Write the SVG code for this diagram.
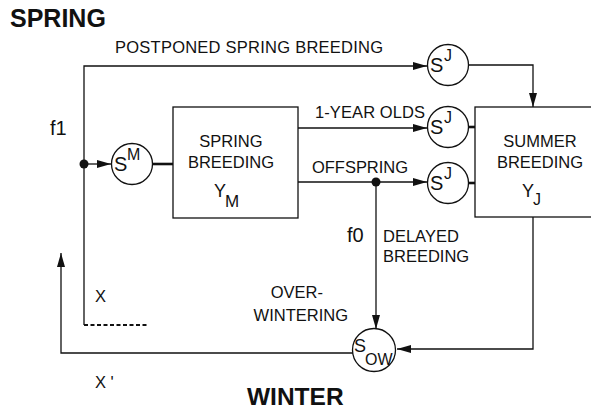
<svg xmlns="http://www.w3.org/2000/svg" width="591" height="409" viewBox="0 0 591 409">
<style>
text{font-family:"Liberation Sans",Arial,sans-serif;fill:#111}
.lbl{font-size:16.5px}
.hd{font-size:25px;font-weight:bold}
.f{font-size:20px}
.s{font-size:20px}
.sup{font-size:16px}
line,polyline,path.c{stroke:#111;stroke-width:1.3;fill:none}
rect.box{fill:#fff;stroke:#111;stroke-width:1.3}
circle.n{fill:#fff;stroke:#111;stroke-width:1.3}
.thick{stroke-width:2.6}
</style>
<defs>
<marker id="arr" viewBox="0 0 14 10" refX="14" refY="5" markerWidth="14" markerHeight="10" markerUnits="userSpaceOnUse" orient="auto">
<path d="M0,1 L14,5 L0,9 z" fill="#111"/>
</marker>
</defs>
<rect width="591" height="409" fill="#fff"/>
<text class="hd" x="10" y="27">SPRING</text>
<text class="hd" x="247" y="405" style="font-size:24.5px">WINTER</text>
<g id="connectors">
<polyline points="84,325 84,66 427,66" marker-end="url(#arr)"/>
<polyline points="468,65 533,65 533,107" marker-end="url(#arr)"/>
<line x1="84" y1="164" x2="111" y2="164" marker-end="url(#arr)"/>
<line x1="152" y1="164" x2="173" y2="164" class="thick"/>
<line x1="298" y1="128" x2="427" y2="128" marker-end="url(#arr)"/>
<line x1="298" y1="182" x2="427" y2="182" marker-end="url(#arr)"/>
<line x1="468" y1="127" x2="475" y2="127" class="thick"/>
<line x1="468" y1="183" x2="475" y2="183" class="thick"/>
<line x1="376" y1="182" x2="376" y2="329" marker-end="url(#arr)"/>
<polyline points="533,217 533,349 397,349" marker-end="url(#arr)"/>
<polyline points="353,353 61,353 61,253" marker-end="url(#arr)"/>
<line x1="84" y1="325" x2="148" y2="325" stroke-dasharray="4,2.5" style="stroke-width:2"/>
<circle cx="84" cy="164" r="4.5" fill="#111"/>
<circle cx="376" cy="182" r="4.5" fill="#111"/>
</g>
<text class="lbl" x="115" y="53" textLength="268" lengthAdjust="spacing">POSTPONED SPRING BREEDING</text>
<text class="lbl" x="315" y="118" textLength="110" lengthAdjust="spacing">1-YEAR OLDS</text>
<text class="lbl" x="312" y="173" textLength="96" lengthAdjust="spacing">OFFSPRING</text>
<text class="f" x="50" y="135">f1</text>
<text class="f" x="347" y="242">f0</text>
<text class="lbl" x="383" y="242">DELAYED</text>
<text class="lbl" x="383" y="262">BREEDING</text>
<text class="lbl" x="323" y="298" text-anchor="end">OVER-</text>
<text class="lbl" x="348" y="321" text-anchor="end">WINTERING</text>
<text class="lbl" x="95" y="302">X</text>
<text class="lbl" x="95" y="388">X '</text>
<g id="spring-breeding">
<rect class="box" x="173" y="107" width="125" height="111"/>
<text class="lbl" x="231" y="147" text-anchor="middle">SPRING</text>
<text class="lbl" x="231" y="168" text-anchor="middle">BREEDING</text>
<text class="lbl" x="214" y="197" style="font-size:18px">Y</text>
<text class="lbl" x="225" y="207" style="font-size:17px">M</text>
</g>
<g id="summer-breeding">
<rect class="box" x="475" y="107" width="130" height="110"/>
<text class="lbl" x="540" y="147" text-anchor="middle">SUMMER</text>
<text class="lbl" x="540" y="168" text-anchor="middle">BREEDING</text>
<text class="lbl" x="522" y="197" style="font-size:18px">Y</text>
<text class="lbl" x="533" y="205" style="font-size:16px">J</text>
</g>
<g id="sm">
<circle class="n" cx="132" cy="164" r="20.5"/>
<text class="s" x="114" y="171">S</text>
<text class="sup" x="127" y="160">M</text>
</g>
<g id="sj-top">
<circle class="n" cx="448" cy="65" r="20.5"/>
<text class="s" x="430" y="72">S</text>
<text class="sup" x="444" y="61">J</text>
</g>
<g id="sj-mid">
<circle class="n" cx="448" cy="127" r="20.5"/>
<text class="s" x="430" y="134">S</text>
<text class="sup" x="444" y="123">J</text>
</g>
<g id="sj-bot">
<circle class="n" cx="448" cy="183" r="20.5"/>
<text class="s" x="430" y="190">S</text>
<text class="sup" x="444" y="179">J</text>
</g>
<g id="sow">
<circle class="n" cx="374" cy="350" r="21.5"/>
<text class="s" x="354" y="352" style="font-size:18px">S</text>
<text class="sup" x="365" y="365">OW</text>
</g>
</svg>
